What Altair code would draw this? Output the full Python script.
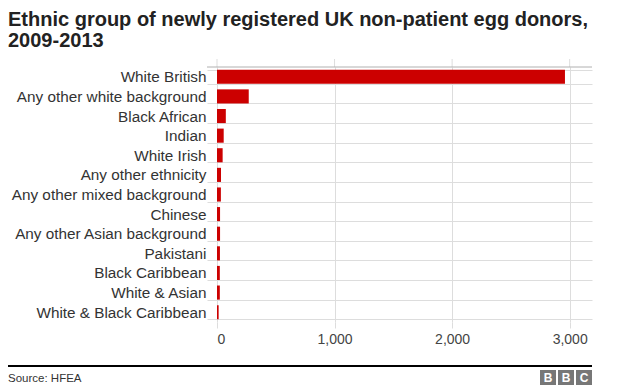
import altair as alt
import pandas as pd

# ---- data ----
categories = [
    "White British",
    "Any other white background",
    "Black African",
    "Indian",
    "White Irish",
    "Any other ethnicity",
    "Any other mixed background",
    "Chinese",
    "Any other Asian background",
    "Pakistani",
    "Black Caribbean",
    "White & Asian",
    "White & Black Caribbean",
]
values = [2960, 270, 75, 57, 48, 34, 33, 26, 26, 25, 24, 24, 14]
x_ticks = [0, 1000, 2000, 3000]
title_lines = [
    "Ethnic group of newly registered UK non-patient egg donors,",
    "2009-2013",
]
source_text = "Source: HFEA"
logo_letters = ["B", "B", "C"]

# ---- layout ----
W, H = 375, 255
PAD_L, PAD_T, PAD_R, PAD_B = 209, 59, 24, 66
FONT = "Liberation Sans"
GRID = "#dddddd"

df = pd.DataFrame({"group": categories, "donors": values})
ticks_df = pd.DataFrame({"t": x_ticks})
one = pd.DataFrame({"a": [0]})

xscale = alt.Scale(domain=[0, 3190], nice=False)
yscale = alt.Scale(paddingInner=0.28, paddingOuter=0.14)

x_axis = alt.Axis(
    values=x_ticks, format=",.0f", title=None, domain=False,
    grid=True, gridColor=GRID, tickColor=GRID, tickSize=6,
    labelFont=FONT, labelFontSize=14, labelColor="#444444",
    labelPadding=4,
)

bars = alt.Chart(df).mark_bar(color="#cc0000").encode(
    x=alt.X("donors:Q", scale=xscale, axis=x_axis),
    y=alt.Y(
        "group:N",
        sort=categories,
        scale=yscale,
        axis=alt.Axis(
            title=None, domain=False, grid=True, gridColor=GRID,
            tickColor=GRID, tickSize=10, tickBand="extent",
            labelFont=FONT, labelFontSize=15.3, labelColor="#333333",
            labelPadding=1, labelLimit=400,
        ),
    ),
)

top_ticks = alt.Chart(ticks_df).mark_rule(color=GRID).encode(
    x=alt.X("t:Q", scale=xscale, axis=x_axis),
    y=alt.value(-8),
    y2=alt.value(0),
)

top_line = alt.Chart(one).mark_rule(color="#b0b0b0").encode(
    x=alt.value(-10), x2=alt.value(W), y=alt.value(0)
)

footer_line = alt.Chart(one).mark_rule(color="#000000", strokeWidth=2).encode(
    x=alt.value(-PAD_L), x2=alt.value(W), y=alt.value(299)
)

source = alt.Chart(one).mark_text(
    align="left", baseline="alphabetic", font=FONT, fontSize=11.5, color="#333333"
).encode(x=alt.value(-PAD_L), y=alt.value(315), text=alt.value(source_text))

logo_layers = []
for i, letter in enumerate(logo_letters):
    x0 = 323 + i * 18
    logo_layers.append(
        alt.Chart(one).mark_rect(color="#777777").encode(
            x=alt.value(x0), x2=alt.value(x0 + 16),
            y=alt.value(303), y2=alt.value(318),
        )
    )
    logo_layers.append(
        alt.Chart(one).mark_text(
            align="center", baseline="middle", font=FONT, fontSize=12,
            fontWeight="bold", color="#ffffff",
        ).encode(x=alt.value(x0 + 8), y=alt.value(311), text=alt.value(letter))
    )

chart = alt.layer(
    bars, top_ticks, top_line, footer_line, source, *logo_layers
).properties(
    width=W,
    height=H,
    padding={"left": PAD_L, "top": PAD_T, "right": PAD_R, "bottom": PAD_B},
    autosize=alt.AutoSizeParams(type="none"),
    title=alt.TitleParams(
        text=title_lines, anchor="start", frame="group", dx=-PAD_L,
        offset=8, font=FONT, fontSize=20, fontWeight="bold",
        color="#222222", lineHeight=21,
    ),
).configure_view(stroke=None)

chart.save("out.html", embed_options={"renderer": "svg", "actions": False})
